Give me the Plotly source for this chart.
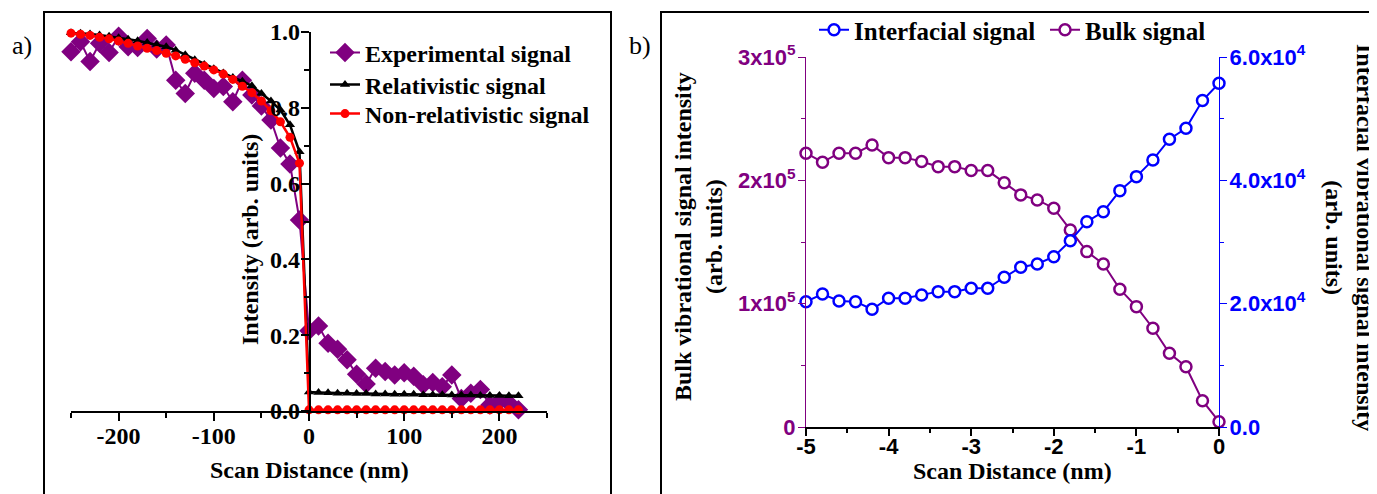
import plotly.graph_objects as go

# ---------------- data: panel a ----------------
scan_nm = [-250, -240, -230, -220, -210, -200, -190, -180, -170, -160, -150, -140, -130, -120,
           -110, -100, -90, -80, -70, -60, -50, -40, -30, -20, -10,
           0, 10, 20, 30, 40, 50, 60, 70, 80, 90, 100, 110, 120, 130, 140, 150, 160, 170,
           180, 190, 200, 210, 220]
experimental = [0.948, 0.974, 0.922, 0.970, 0.946, 0.989, 0.961, 0.959, 0.983, 0.955, 0.966,
                0.873, 0.838, 0.891, 0.873, 0.851, 0.856, 0.816, 0.873, 0.834, 0.805, 0.768,
                0.694, 0.652, 0.504,
                0.212, 0.224, 0.179, 0.163, 0.135, 0.097, 0.071, 0.113, 0.104, 0.095, 0.101,
                0.092, 0.069, 0.075, 0.064, 0.095, 0.033, 0.047, 0.057, 0.016, 0.025, 0.021, 0.003]
relativistic = [0.998, 0.997, 0.995, 0.992, 0.989, 0.985, 0.981, 0.977, 0.972, 0.967, 0.961,
                0.952, 0.940, 0.927, 0.914, 0.903, 0.892, 0.880, 0.870, 0.858, 0.838, 0.818,
                0.794, 0.755, 0.684,
                0.050, 0.049, 0.048, 0.047, 0.047, 0.046, 0.046, 0.045, 0.045, 0.044, 0.044,
                0.044, 0.043, 0.043, 0.043, 0.042, 0.042, 0.042, 0.041, 0.041, 0.041, 0.040, 0.040]
nonrelativistic = [0.997, 0.994, 0.991, 0.986, 0.982, 0.976, 0.970, 0.963, 0.957, 0.951, 0.944,
                   0.937, 0.928, 0.919, 0.910, 0.900, 0.889, 0.875, 0.857, 0.840, 0.818, 0.792,
                   0.763, 0.722, 0.654,
                   0.003, 0.003, 0.003, 0.003, 0.003, 0.003, 0.003, 0.003, 0.003, 0.003, 0.003,
                   0.003, 0.003, 0.003, 0.003, 0.003, 0.003, 0.003, 0.003, 0.003, 0.003, 0.003, 0.003]
a_xticks = [-200, -100, 0, 100, 200]
a_xticktext = ["-200", "-100", "0", "100", "200"]
a_yticks = [0.0, 0.2, 0.4, 0.6, 0.8, 1.0]
a_yticktext = ["0.0", "0.2", "0.4", "0.6", "0.8", "1.0"]

# ---------------- data: panel b ----------------
scan_b = [-5.0, -4.8, -4.6, -4.4, -4.2, -4.0, -3.8, -3.6, -3.4, -3.2, -3.0, -2.8, -2.6,
          -2.4, -2.2, -2.0, -1.8, -1.6, -1.4, -1.2, -1.0, -0.8, -0.6, -0.4, -0.2, 0.0]
bulk = [222000, 214700, 222000, 222000, 228700, 218400, 218400, 215200, 211100, 211100,
        207900, 207900, 198100, 188200, 184100, 177400, 159800, 142200, 132200, 111700,
        97600, 80100, 59800, 48900, 21300, 4300]
interfacial = [20320, 21570, 20440, 20320, 19090, 20880, 20880, 21410, 21950, 21950,
               22500, 22500, 24280, 25900, 26440, 27620, 30200, 33300, 34920, 38330,
               40600, 43310, 46670, 48450, 52930, 55750]
b_xticks = [-5, -4, -3, -2, -1, 0]
b_xticktext = ["-5", "-4", "-3", "-2", "-1", "0"]
bulk_ticks = [0, 100000, 200000, 300000]
bulk_ticktext = ["0", "1x10<sup>5</sup>", "2x10<sup>5</sup>", "3x10<sup>5</sup>"]
inter_ticks = [0, 20000, 40000, 60000]
inter_ticktext = ["0.0", "2.0x10<sup>4</sup>", "4.0x10<sup>4</sup>", "6.0x10<sup>4</sup>"]

PURPLE = "#800080"
BLUE = "#0000FF"
RED = "#FF0000"
SERIF = "Liberation Serif"
SANS = "Liberation Sans"
OFF = 8  # page body margin of the html page
W, H = 1377 - OFF, 494 - OFF


def px(v):
    return (v - OFF) / W


def py(v):
    return 1 - (v - OFF) / H


fig = go.Figure()

# panel a traces
fig.add_trace(go.Scatter(x=scan_nm, y=experimental, mode="lines+markers", name="Experimental signal",
                         line=dict(color=PURPLE, width=2),
                         marker=dict(symbol="diamond", size=15, color=PURPLE),
                         xaxis="x", yaxis="y", cliponaxis=False, legend="legend"))
fig.add_trace(go.Scatter(x=scan_nm, y=relativistic, mode="lines+markers", name="Relativistic signal",
                         line=dict(color="black", width=2.5),
                         marker=dict(symbol="triangle-up", size=9, color="black"),
                         xaxis="x", yaxis="y", cliponaxis=False, legend="legend2"))
fig.add_trace(go.Scatter(x=scan_nm, y=nonrelativistic, mode="lines+markers", name="Non-relativistic signal",
                         line=dict(color=RED, width=2.5),
                         marker=dict(symbol="circle", size=9, color=RED),
                         xaxis="x", yaxis="y", cliponaxis=False, legend="legend3"))

# panel b traces
fig.add_trace(go.Scatter(x=scan_b, y=interfacial, mode="lines+markers", name="Interfacial signal",
                         line=dict(color=BLUE, width=2),
                         marker=dict(symbol="circle", size=11, color="white",
                                     line=dict(color=BLUE, width=2.5)),
                         xaxis="x2", yaxis="y3", cliponaxis=False, legend="legend4"))
fig.add_trace(go.Scatter(x=scan_b, y=bulk, mode="lines+markers", name="Bulk signal",
                         line=dict(color=PURPLE, width=2),
                         marker=dict(symbol="circle", size=11, color="white",
                                     line=dict(color=PURPLE, width=2.5)),
                         xaxis="x2", yaxis="y2", cliponaxis=False, legend="legend5"))

tick_serif = dict(family=SERIF, size=24, color="black", weight="bold")
tick_sans = dict(family=SANS, size=22, color="black", weight="bold")
leg_font_a = dict(family=SERIF, size=24, color="black", weight="bold")
leg_font_b = dict(family=SERIF, size=25, color="black", weight="bold")


def leg(xpix, ypix, font):
    return dict(x=px(xpix), y=py(ypix), xanchor="left", yanchor="middle",
                bgcolor="rgba(0,0,0,0)", borderwidth=0, font=font)


fig.update_layout(
    width=W, height=H,
    margin=dict(l=0, r=0, t=0, b=0, pad=0, autoexpand=False),
    paper_bgcolor="white", plot_bgcolor="rgba(0,0,0,0)",
    showlegend=True,
    xaxis=dict(domain=[px(71), px(547)], range=[-250, 250], anchor="y", automargin=False,
               showline=True, linecolor="black", linewidth=1.5,
               ticks="outside", ticklen=8, tickwidth=1.5, tickcolor="black",
               tickmode="array", tickvals=a_xticks, ticktext=a_xticktext,
               ticklabelstandoff=-6,
               minor=dict(tickvals=[-250, -150, -50, 50, 150, 250], ticks="outside",
                          ticklen=5, tickwidth=1.5, tickcolor="black"),
               tickfont=tick_serif, showgrid=False, zeroline=False),
    yaxis=dict(domain=[py(411), py(32)], range=[0, 1], anchor="free", position=px(309.5),
               automargin=False,
               showline=True, linecolor="black", linewidth=1.5,
               ticks="outside", ticklen=8, tickwidth=1.5, tickcolor="black",
               tickmode="array", tickvals=a_yticks, ticktext=a_yticktext,
               ticklabelstandoff=-4,
               minor=dict(tickvals=[0.1, 0.3, 0.5, 0.7, 0.9], ticks="outside",
                          ticklen=5, tickwidth=1.5, tickcolor="black"),
               tickfont=tick_serif, showgrid=False, zeroline=False),
    xaxis2=dict(domain=[px(806), px(1219)], range=[-5, 0], anchor="y2", automargin=False,
                showline=True, linecolor="black", linewidth=2,
                ticks="outside", ticklen=7, tickwidth=1.5, tickcolor="black",
                tickmode="array", tickvals=b_xticks, ticktext=b_xticktext,
                ticklabelstandoff=-8,
                minor=dict(tickvals=[-4.5, -3.5, -2.5, -1.5, -0.5], ticks="outside",
                           ticklen=4, tickwidth=1.5, tickcolor="black"),
                tickfont=tick_sans, showgrid=False, zeroline=False),
    xaxis3=dict(overlaying="x2", anchor="y2", side="top", range=[-5, 0], automargin=False,
                showline=True, linecolor="black", linewidth=2,
                ticks="inside", ticklen=5, tickwidth=1.5, tickcolor="black",
                tickmode="array", tickvals=[-5, -4.5, -4, -3.5, -3, -2.5, -2, -1.5, -1, -0.5, 0],
                showticklabels=False, showgrid=False, zeroline=False),
    yaxis2=dict(domain=[py(427), py(57)], range=[0, 300000], anchor="x2", automargin=False,
                showline=True, linecolor=PURPLE, linewidth=1.3,
                ticks="outside", ticklen=7, tickwidth=1.3, tickcolor=PURPLE,
                tickmode="array", tickvals=bulk_ticks, ticktext=bulk_ticktext,
                ticklabelstandoff=-2,
                minor=dict(tickvals=[50000, 150000, 250000], ticks="outside",
                           ticklen=4, tickwidth=1.3, tickcolor=PURPLE),
                tickfont=dict(family=SANS, size=22, color=PURPLE, weight="bold"),
                showgrid=False, zeroline=False),
    yaxis3=dict(overlaying="y2", anchor="x2", side="right", range=[0, 60000], automargin=False,
                showline=True, linecolor=BLUE, linewidth=1.3,
                ticks="outside", ticklen=7, tickwidth=1.3, tickcolor=BLUE,
                tickmode="array", tickvals=inter_ticks, ticktext=inter_ticktext,
                ticklabelstandoff=-2,
                minor=dict(tickvals=[10000, 30000, 50000], ticks="outside",
                           ticklen=4, tickwidth=1.3, tickcolor=BLUE),
                tickfont=dict(family=SANS, size=22, color=BLUE, weight="bold"),
                showgrid=False, zeroline=False),
    legend=leg(325, 53, leg_font_a),
    legend2=leg(325, 85, leg_font_a),
    legend3=leg(325, 114, leg_font_a),
    legend4=leg(814, 30, leg_font_b),
    legend5=leg(1045, 30, leg_font_b),
)

title_font = dict(family=SERIF, size=24, color="black", weight="bold")
annotations = [
    dict(text="Scan Distance (nm)", x=px(309), y=py(470), xref="paper", yref="paper",
         showarrow=False, font=title_font, xanchor="center", yanchor="middle"),
    dict(text="Intensity (arb. units)", x=px(250), y=py(240), xref="paper", yref="paper",
         showarrow=False, font=title_font, textangle=-90, xanchor="center", yanchor="middle"),
    dict(text="Scan Distance (nm)", x=px(1012), y=py(471), xref="paper", yref="paper",
         showarrow=False, font=title_font, xanchor="center", yanchor="middle"),
    dict(text="Bulk vibrational signal intensity<br>(arb. units)", x=px(698), y=py(237),
         xref="paper", yref="paper", showarrow=False, font=title_font, textangle=-90,
         xanchor="center", yanchor="middle"),
    dict(text="Interfacial vibrational signal intensity<br>(arb. units)", x=px(1350), y=py(237),
         xref="paper", yref="paper", showarrow=False, font=title_font, textangle=90,
         xanchor="center", yanchor="middle"),
    dict(text="a)", x=px(22), y=py(45), xref="paper", yref="paper", showarrow=False,
         font=dict(family=SERIF, size=26, color="black"), xanchor="center", yanchor="middle"),
    dict(text="b)", x=px(640), y=py(45), xref="paper", yref="paper", showarrow=False,
         font=dict(family=SERIF, size=26, color="black"), xanchor="center", yanchor="middle"),
]
fig.update_layout(annotations=annotations)

shapes = [
    dict(type="rect", xref="paper", yref="paper", x0=px(44), x1=px(611), y0=py(505), y1=py(12),
         line=dict(color="black", width=2), fillcolor="rgba(0,0,0,0)", layer="below"),
    dict(type="rect", xref="paper", yref="paper", x0=px(661), x1=px(1376), y0=py(505), y1=py(12),
         line=dict(color="black", width=2), fillcolor="rgba(0,0,0,0)", layer="below"),
]
fig.update_layout(shapes=shapes)

fig.write_html("out.html")
